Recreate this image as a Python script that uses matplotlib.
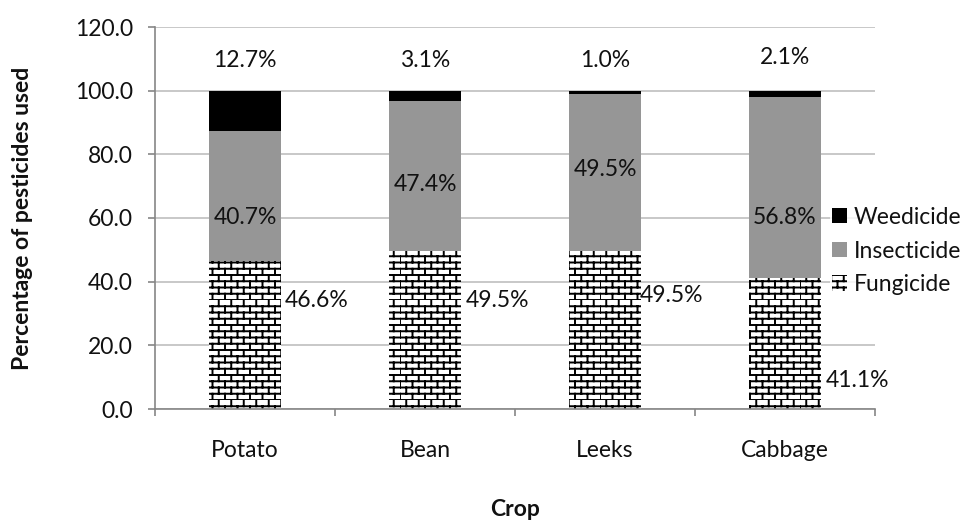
import warnings
warnings.filterwarnings("ignore")
import numpy as np
import matplotlib
matplotlib.use("Agg")
import matplotlib.pyplot as plt
import matplotlib.hatch as mhatch
from matplotlib.path import Path

# ---------------- data ----------------
crops = ["Potato", "Bean", "Leeks", "Cabbage"]
fungicide = [46.6, 49.5, 49.5, 41.1]
insecticide = [40.7, 47.4, 49.5, 56.8]
weedicide = [12.7, 3.1, 1.0, 2.1]
yticks = [0, 20, 40, 60, 80, 100, 120]

# label positions (data units) as placed in the reference
weed_label_y = [109.6, 109.6, 109.6, 110.3]
insect_label_y = [60.0, 70.4, 75.1, 60.0]
fung_label_dx = [0.40, 0.40, 0.37, 0.40]
fung_label_y = [34.2, 34.2, 35.5, 9.1]


# ------------- brick hatch -------------
class BrickHatch(mhatch.HatchPatternBase):
    def __init__(self, hatch, density):
        self.rows = 16 if "b" in hatch else 0
        self.cols = 8
        self.num_vertices = self.rows * (2 + 2 * self.cols)

    def set_vertices_and_codes(self, vertices, codes):
        verts = []
        for i in range(self.rows):
            y0 = i / self.rows
            y1 = (i + 1) / self.rows
            verts += [(0.0, y0), (1.0, y0)]
            shift = 0.5 / self.cols if i % 2 else 0.0
            for j in range(self.cols):
                xx = j / self.cols + shift
                verts += [(xx, y0), (xx, y1)]
        vertices[:] = np.array(verts)
        codes[0::2] = Path.MOVETO
        codes[1::2] = Path.LINETO


mhatch._hatch_types.append(BrickHatch)

plt.rcParams["font.family"] = ["Lato", "DejaVu Sans"]
plt.rcParams["hatch.linewidth"] = 1.4
plt.rcParams["hatch.color"] = "black"

FS = 16.5
TXT = "#111111"
fig = plt.figure(figsize=(9.76, 5.2), dpi=100)
ax = fig.add_axes([155 / 976, 1 - 409 / 520, 720 / 976, 382 / 520])

x = np.arange(len(crops))
w = 0.4
f = np.array(fungicide)
ins = np.array(insecticide)
wd = np.array(weedicide)

b1 = ax.bar(x, f, w, color="white", hatch="b", edgecolor="black", linewidth=0,
            label="Fungicide", zorder=2)
b2 = ax.bar(x, ins, w, bottom=f, color="#969696", linewidth=0,
            label="Insecticide", zorder=2)
b3 = ax.bar(x, wd, w, bottom=f + ins, color="black", linewidth=0,
            label="Weedicide", zorder=2)

for i in range(len(crops)):
    ax.text(x[i], weed_label_y[i], f"{weedicide[i]:.1f}%", ha="center",
            va="center", fontsize=FS, color=TXT, zorder=3)
    ax.text(x[i], insect_label_y[i], f"{insecticide[i]:.1f}%", ha="center",
            va="center", fontsize=FS, color=TXT, zorder=3)
    ax.text(x[i] + fung_label_dx[i], fung_label_y[i], f"{fungicide[i]:.1f}%",
            ha="center", va="center", fontsize=FS, color=TXT, zorder=3)

ax.set_xlim(-0.5, len(crops) - 0.5)
ax.set_ylim(0, 120)
ax.set_yticks(yticks)
ax.set_yticklabels([f"{v:.1f}" for v in yticks])
ax.yaxis.grid(True, color="#bfbfbf", linewidth=1.2, zorder=0)
ax.set_axisbelow(True)

ax.set_xticks(x)
ax.set_xticklabels(crops)
ax.set_xticks(np.arange(len(crops) + 1) - 0.5, minor=True)
ax.tick_params(axis="x", which="major", length=0, pad=22, labelsize=FS,
               labelcolor=TXT)
ax.tick_params(axis="x", which="minor", length=5, color="#868686", width=1.2)
ax.tick_params(axis="y", length=5, color="#868686", width=1.2, pad=11,
               labelsize=FS, labelcolor=TXT)

for s in ["top", "right"]:
    ax.spines[s].set_visible(False)
for s in ["left", "bottom"]:
    ax.spines[s].set_color("#868686")
    ax.spines[s].set_linewidth(1.2)

ax.set_xlabel("Crop", fontsize=FS, fontweight="bold", color=TXT)
ax.xaxis.set_label_coords(0.5, -0.235)
ax.set_ylabel("Percentage of pesticides used", fontsize=FS, fontweight="bold",
              color=TXT)
ax.yaxis.set_label_coords(-0.17, 0.5)

leg = fig.legend([b3, b2, b1], ["Weedicide", "Insecticide", "Fungicide"],
                 loc="center left", bbox_to_anchor=(830 / 976, 1 - 251 / 520),
                 frameon=True, fontsize=FS, handlelength=0.65, handleheight=0.65,
                 handletextpad=0.3, labelspacing=0.55, borderpad=0.1,
                 borderaxespad=0)
for t in leg.get_texts():
    t.set_color(TXT)
leg.get_frame().set_facecolor("white")
leg.get_frame().set_edgecolor("none")

fig.savefig("out.png", dpi=100)
